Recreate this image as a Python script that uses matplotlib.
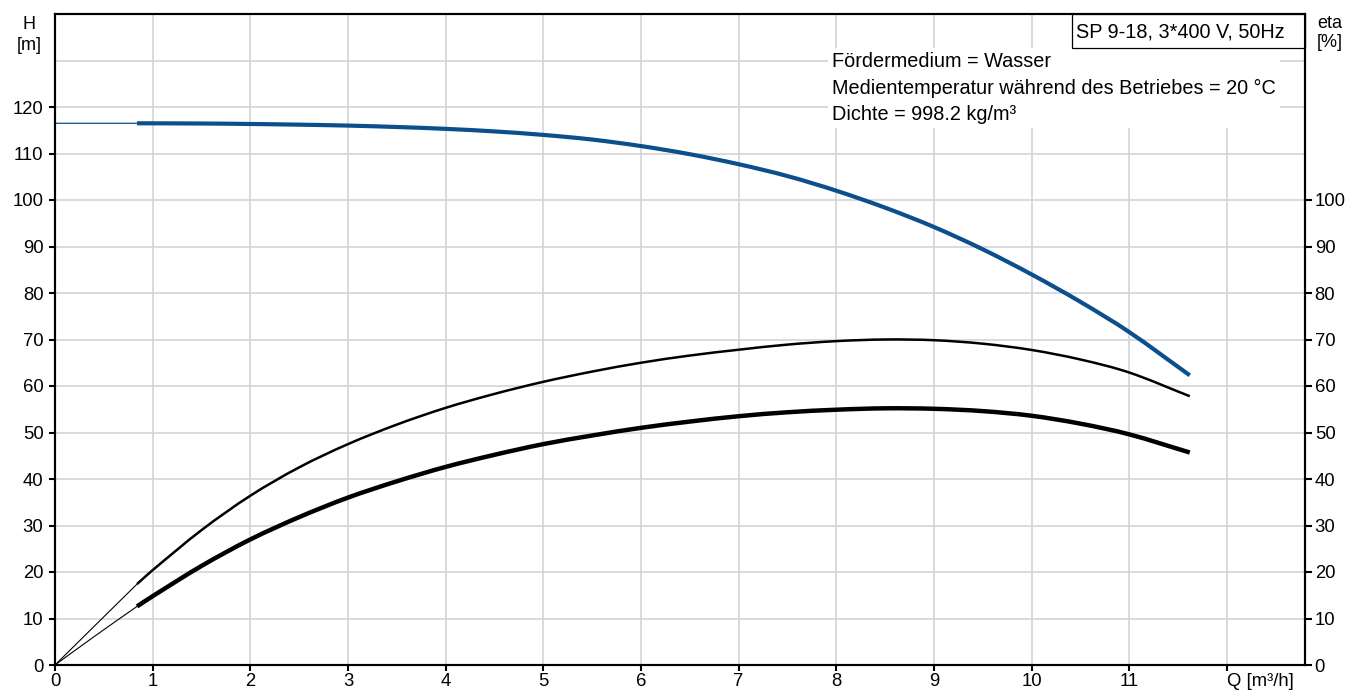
import matplotlib

matplotlib.use("Agg", force=True)
import matplotlib.pyplot as plt
import numpy as np
from matplotlib.patches import PathPatch, Rectangle
from matplotlib.path import Path

plt.rcParams["font.family"] = ["Liberation Sans", "DejaVu Sans"]
FS_TEXT = 14.3
FS_TICK = 13.3

# head curve H [m] over Q [m3/h]
q_h_lo = [0.0, 0.84]
h_lo = [116.5, 116.5]
q_h = [0.84, 1.5, 2.0, 2.5, 3.0, 3.5, 4.0, 4.5, 5.0, 5.5, 6.0, 6.5, 7.0, 7.5,
       8.0, 8.5, 9.0, 9.5, 10.0, 10.5, 11.0, 11.62]
h = [116.5, 116.45, 116.35, 116.2, 116.0, 115.7, 115.3, 114.75, 114.0, 113.0, 111.6,
     109.85, 107.7, 105.15, 102.0, 98.35, 94.2, 89.4, 84.0, 78.1, 71.6, 62.3]

# efficiency curves eta [%]
q_eta_lo = [0.0, 0.4, 0.84]
eta_pump_lo = [0.0, 8.3, 17.4]
eta_total_lo = [0.0, 6.1, 12.6]
q_eta = [0.84, 1.0, 1.5, 2.0, 2.5, 3.0, 3.5, 4.0, 4.5, 5.0, 5.5, 6.0, 6.5, 7.0,
         7.5, 8.0, 8.5, 9.0, 9.5, 10.0, 10.5, 11.0, 11.62]
eta_pump = [17.4, 20.4, 29.0, 36.4, 42.5, 47.5, 51.7, 55.3, 58.3, 60.9, 63.1, 65.0,
            66.55, 67.8, 68.9, 69.65, 70.0, 69.85, 69.1, 67.75, 65.7, 62.9, 57.8]
eta_total = [12.6, 14.8, 21.3, 27.0, 31.8, 36.0, 39.5, 42.6, 45.2, 47.5, 49.35, 51.0,
             52.35, 53.5, 54.35, 54.9, 55.2, 55.1, 54.6, 53.6, 51.9, 49.6, 45.7]

x_ticks = list(range(0, 13))
x_labels = [str(v) for v in range(0, 12)] + ["Q [m³/h]"]
h_ticks = list(range(0, 121, 10))
eta_ticks = list(range(0, 101, 10))

info_text = ("Fördermedium = Wasser\n"
             "Medientemperatur während des Betriebes = 20 °C\n"
             "Dichte = 998.2 kg/m³")
title_text = "SP 9-18, 3*400 V, 50Hz"

BLUE = "#0c4f8c"
GRID = "#d2d4d8"

W, H = 1363, 690
AX_L, AX_R, AX_T, AX_B = 55, 1305, 14, 665


def smooth_path(xs, ys):
    """Cubic Hermite through the read points (finite-difference slopes)."""
    x = np.asarray(xs, dtype=float)
    y = np.asarray(ys, dtype=float)
    m = np.empty_like(y)
    m[0] = (y[1] - y[0]) / (x[1] - x[0])
    m[-1] = (y[-1] - y[-2]) / (x[-1] - x[-2])
    for i in range(1, len(x) - 1):
        m[i] = (y[i + 1] - y[i - 1]) / (x[i + 1] - x[i - 1])
    verts = [(x[0], y[0])]
    codes = [Path.MOVETO]
    for i in range(len(x) - 1):
        d = (x[i + 1] - x[i]) / 3.0
        verts += [(x[i] + d, y[i] + m[i] * d),
                  (x[i + 1] - d, y[i + 1] - m[i + 1] * d),
                  (x[i + 1], y[i + 1])]
        codes += [Path.CURVE4] * 3
    return Path(verts, codes)


def draw_curve(ax, xs, ys, color, lw):
    ax.add_patch(PathPatch(smooth_path(xs, ys), fill=False, edgecolor=color,
                           lw=lw, capstyle="butt", joinstyle="round", zorder=2))


def ax_xy(px, py):
    # pixel position in the picture -> axes fraction
    return (px - AX_L) / (AX_R - AX_L), (AX_B - py) / (AX_B - AX_T)


fig = plt.figure(figsize=(W / 100, H / 100), dpi=100)
ax = fig.add_axes([AX_L / W, 1 - AX_B / H, (AX_R - AX_L) / W, (AX_B - AX_T) / H])
ax.set_xlim(0, 12.8)
ax.set_ylim(0, 140)

ax.set_xticks(x_ticks)
ax.set_xticklabels(x_labels)
ax.set_yticks(h_ticks)
ax.set_yticks([130], minor=True)
ax.tick_params(axis="both", which="major", direction="out", length=4.3, width=1.5,
               labelsize=FS_TICK)
ax.tick_params(axis="x", which="major", pad=1.5)
ax.tick_params(axis="y", which="major", pad=4)
ax.tick_params(axis="y", which="minor", length=0)
ax.grid(True, which="both", color=GRID, linewidth=1.2)
ax.set_axisbelow(True)
for lab in ax.get_xticklabels()[-1:]:
    lab.set_horizontalalignment("left")
    lab.set_x(11.93)

for sp in ax.spines.values():
    sp.set_linewidth(1.5)
    sp.set_color("black")

draw_curve(ax, q_h_lo, h_lo, BLUE, 0.9)
draw_curve(ax, q_h, h, BLUE, 3.0)

ax2 = ax.twinx()
ax2.set_ylim(0, 140)
ax2.set_yticks(eta_ticks)
ax2.tick_params(axis="y", direction="out", length=5, width=1.5, pad=2,
                labelsize=FS_TICK)
for sp in ax2.spines.values():
    sp.set_linewidth(1.5)

draw_curve(ax2, q_eta_lo, eta_pump_lo, "black", 0.8)
draw_curve(ax2, q_eta_lo, eta_total_lo, "black", 0.8)
draw_curve(ax2, q_eta, eta_pump, "black", 1.8)
draw_curve(ax2, q_eta, eta_total, "black", 3.2)

# info block with white background hiding the grid
# (va="baseline" puts the last line's baseline at the given point)
ax.text(*ax_xy(832, 120.3), info_text, transform=ax.transAxes,
        ha="left", va="baseline", fontsize=FS_TEXT, linespacing=1.5, zorder=3,
        bbox=dict(facecolor="white", edgecolor="none", pad=3))

# model box in the top right corner
x0, y0 = ax_xy(1072, 48)
ax.add_patch(Rectangle((x0, y0), 1 - x0, 1 - y0, transform=ax.transAxes,
                       facecolor="white", edgecolor="black", lw=0.9, zorder=4,
                       clip_on=False))
ax.text(*ax_xy(1076, 37), title_text, transform=ax.transAxes,
        ha="left", va="baseline", fontsize=FS_TEXT, zorder=5)

fig.text(29 / W, 1 - 49.5 / H, "H\n[m]", ha="center", va="baseline", fontsize=13,
         linespacing=1.27)
fig.text(1330 / W, 1 - 47 / H, "eta\n[%]", ha="center", va="baseline",
         fontsize=13, linespacing=1.15)

fig.savefig("out.png", dpi=100)
plt.close(fig)
